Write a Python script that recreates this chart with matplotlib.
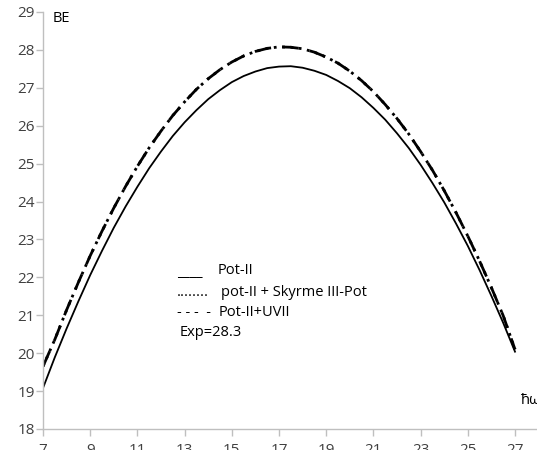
import matplotlib
matplotlib.use("Agg")
import matplotlib.pyplot as plt

plt.rcParams['font.family'] = ['Open Sans', 'DejaVu Sans']

hw = [7, 7.5, 8, 8.5, 9, 9.5, 10, 10.5, 11, 11.5, 12, 12.5, 13, 13.5, 14, 14.5, 15, 15.5,
      16, 16.5, 17, 17.5, 18, 18.5, 19, 19.5, 20, 20.5, 21, 21.5, 22, 22.5, 23, 23.5,
      24, 24.5, 25, 25.5, 26, 26.5, 27]
pot2 = [19.08, 19.89, 20.65, 21.37, 22.06, 22.70, 23.31, 23.87, 24.39, 24.88, 25.32, 25.73,
        26.09, 26.41, 26.70, 26.94, 27.15, 27.31, 27.43, 27.52, 27.56, 27.57, 27.53, 27.45,
        27.34, 27.18, 26.99, 26.75, 26.47, 26.16, 25.80, 25.41, 24.97, 24.49, 23.98, 23.42,
        22.83, 22.19, 21.51, 20.80, 20.04]
pot2_skyrme = [19.65, 20.36, 21.14, 21.87, 22.57, 23.22, 23.83, 24.40, 24.93, 25.42, 25.86,
               26.27, 26.63, 26.96, 27.24, 27.48, 27.68, 27.84, 27.96, 28.04, 28.08, 28.07,
               28.03, 27.94, 27.81, 27.65, 27.44, 27.19, 26.90, 26.56, 26.19, 25.78, 25.32,
               24.83, 24.29, 23.71, 23.09, 22.43, 21.73, 20.99, 20.10]
pot2_uvii = [19.65, 20.36, 21.14, 21.87, 22.57, 23.22, 23.83, 24.40, 24.93, 25.42, 25.86,
             26.27, 26.63, 26.96, 27.24, 27.48, 27.68, 27.84, 27.96, 28.04, 28.08, 28.07,
             28.03, 27.94, 27.81, 27.65, 27.44, 27.19, 26.90, 26.56, 26.19, 25.78, 25.32,
             24.83, 24.29, 23.71, 23.09, 22.43, 21.73, 20.99, 20.10]
xticks = [7, 9, 11, 13, 15, 17, 19, 21, 23, 25, 27]
yticks = [18, 19, 20, 21, 22, 23, 24, 25, 26, 27, 28, 29]

W, H = 537, 450
fig = plt.figure(figsize=(W / 100, H / 100), dpi=100)
ax = fig.add_axes([43 / W, (H - 429) / H, (W - 43) / W, (429 - 12) / H])

ax.plot(hw, pot2, color='black', lw=1.3, linestyle='-')
ax.plot(hw, pot2_skyrme, color='black', lw=2.0, linestyle=(0, (1, 2)))
ax.plot(hw, pot2_uvii, color='black', lw=2.0, linestyle=(0, (6, 4)))

ax.set_xlim(7, 7 + (W - 43) / 23.6)
ax.set_ylim(18, 29)
ax.set_xticks(xticks)
ax.set_yticks(yticks)
for s in ['top', 'right']:
    ax.spines[s].set_visible(False)
for s in ['left', 'bottom']:
    ax.spines[s].set_color('#bfbfbf')
    ax.spines[s].set_linewidth(1.0)
ax.tick_params(axis='both', direction='out', length=5, width=1, color='#bfbfbf',
               labelcolor='#404040', labelsize=11)
ax.tick_params(axis='y', pad=1)
ax.tick_params(axis='x', pad=5)

fig.text(53 / W, 1 - 18 / H, 'BE', fontsize=10.5, color='black', va='center', ha='left')
fig.text(521 / W, 1 - 401 / H, 'ħω', fontsize=10.5, color='black', va='center', ha='left')

fs = 10.5
fig.text(177 / W, 1 - 273 / H, '____', fontsize=fs, va='center', ha='left')
fig.text(218 / W, 1 - 270 / H, 'Pot-II', fontsize=fs, va='center', ha='left')
fig.text(177 / W, 1 - 292 / H, '........', fontsize=fs, va='center', ha='left')
fig.text(221 / W, 1 - 292 / H, 'pot-II + Skyrme III-Pot', fontsize=fs, va='center', ha='left')
fig.text(177 / W, 1 - 312 / H, '- - -  -', fontsize=fs, va='center', ha='left')
fig.text(219 / W, 1 - 312 / H, 'Pot-II+UVII', fontsize=fs, va='center', ha='left')
fig.text(180 / W, 1 - 333 / H, 'Exp=28.3', fontsize=fs, va='center', ha='left')

fig.savefig('out.png', dpi=100)
